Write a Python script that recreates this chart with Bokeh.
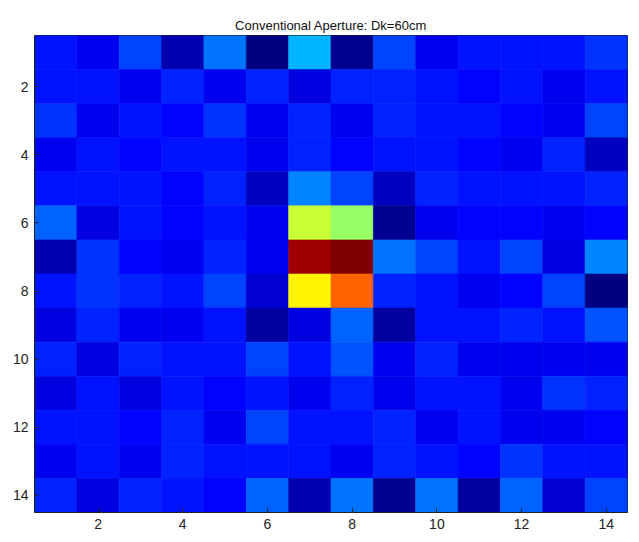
from bokeh.plotting import figure
from bokeh.models import ColumnDataSource, LinearColorMapper, Range1d, FixedTicker
from bokeh.embed import file_html
from bokeh.resources import INLINE
from bokeh.transform import transform

# 14x14 intensity grid (row 1 = top), normalized 0..1
row01 = [0.15, 0.12, 0.20, 0.05, 0.24, 0.00, 0.30, 0.02, 0.20, 0.11, 0.15, 0.15, 0.14, 0.18]
row02 = [0.14, 0.15, 0.12, 0.17, 0.12, 0.17, 0.10, 0.17, 0.17, 0.15, 0.13, 0.15, 0.12, 0.14]
row03 = [0.18, 0.12, 0.15, 0.13, 0.18, 0.11, 0.17, 0.12, 0.17, 0.14, 0.15, 0.13, 0.12, 0.20]
row04 = [0.12, 0.15, 0.13, 0.15, 0.15, 0.12, 0.16, 0.13, 0.14, 0.14, 0.13, 0.11, 0.17, 0.07]
row05 = [0.15, 0.15, 0.15, 0.13, 0.16, 0.07, 0.26, 0.19, 0.07, 0.17, 0.15, 0.15, 0.15, 0.17]
row06 = [0.22, 0.10, 0.15, 0.13, 0.15, 0.12, 0.57, 0.52, 0.03, 0.11, 0.13, 0.13, 0.12, 0.13]
row07 = [0.06, 0.18, 0.13, 0.12, 0.16, 0.12, 0.95, 0.99, 0.24, 0.20, 0.14, 0.20, 0.10, 0.26]
row08 = [0.15, 0.18, 0.17, 0.15, 0.20, 0.09, 0.63, 0.76, 0.17, 0.15, 0.12, 0.13, 0.20, 0.01]
row09 = [0.10, 0.17, 0.12, 0.12, 0.14, 0.04, 0.10, 0.22, 0.04, 0.15, 0.15, 0.17, 0.15, 0.21]
row10 = [0.17, 0.10, 0.17, 0.15, 0.15, 0.19, 0.14, 0.21, 0.12, 0.17, 0.12, 0.12, 0.12, 0.12]
row11 = [0.10, 0.15, 0.10, 0.15, 0.13, 0.14, 0.12, 0.17, 0.12, 0.14, 0.14, 0.12, 0.18, 0.16]
row12 = [0.15, 0.15, 0.13, 0.17, 0.12, 0.20, 0.14, 0.15, 0.17, 0.12, 0.14, 0.12, 0.12, 0.13]
row13 = [0.12, 0.15, 0.12, 0.17, 0.14, 0.14, 0.14, 0.12, 0.17, 0.15, 0.13, 0.18, 0.14, 0.14]
row14 = [0.17, 0.10, 0.16, 0.15, 0.13, 0.22, 0.06, 0.24, 0.02, 0.24, 0.04, 0.22, 0.08, 0.19]
rows = [row01, row02, row03, row04, row05, row06, row07, row08, row09, row10, row11, row12, row13, row14]
tick_values = [2, 4, 6, 8, 10, 12, 14]


def jet(n=64):
    cols = []
    for i in range(n):
        v = i / (n - 1)
        def ch(x):
            return max(0.0, min(1.0, 1.5 - abs(4 * v - x)))
        r, g, b = ch(3), ch(2), ch(1)
        cols.append("#%02x%02x%02x" % (round(r * 255), round(g * 255), round(b * 255)))
    return cols


xs, ys, vals = [], [], []
for ri, row in enumerate(rows):
    for ci, v in enumerate(row):
        xs.append(ci + 1)
        ys.append(ri + 1)
        vals.append(v)
src = ColumnDataSource(dict(x=xs, y=ys, v=vals))
mapper = LinearColorMapper(palette=jet(64), low=min(vals), high=max(vals))

p = figure(width=639, height=542, output_backend="svg", toolbar_location=None,
           x_range=Range1d(0.5, 14.5), y_range=Range1d(14.5, 0.5),
           min_border_left=34, min_border_right=12, min_border_top=35, min_border_bottom=30)
p.rect(x="x", y="y", width=1, height=1, source=src,
       fill_color=transform("v", mapper), line_color=transform("v", mapper), line_width=0.6)

p.title.text = "Conventional Aperture: Dk=60cm"
p.title.align = "center"
p.title.text_font = "Liberation Sans"
p.title.text_font_style = "normal"
p.title.text_font_size = "13px"
p.title.text_color = "#111111"
p.title.offset = 0
p.title.standoff = 6

p.grid.visible = False
p.outline_line_color = "#222222"
p.outline_line_width = 1
p.background_fill_color = "white"
p.border_fill_color = "white"

for ax in p.axis:
    ax.ticker = FixedTicker(ticks=tick_values)
    ax.major_tick_in = 4
    ax.major_tick_out = 0
    ax.minor_tick_line_color = None
    ax.axis_line_color = "#222222"
    ax.major_label_text_font = "Liberation Sans"
    ax.major_label_text_font_size = "14px"
    ax.major_label_text_color = "#222222"
    ax.major_tick_line_color = "#222222"
    ax.major_label_standoff = 6

open("out.html", "w").write(file_html(p, INLINE))
